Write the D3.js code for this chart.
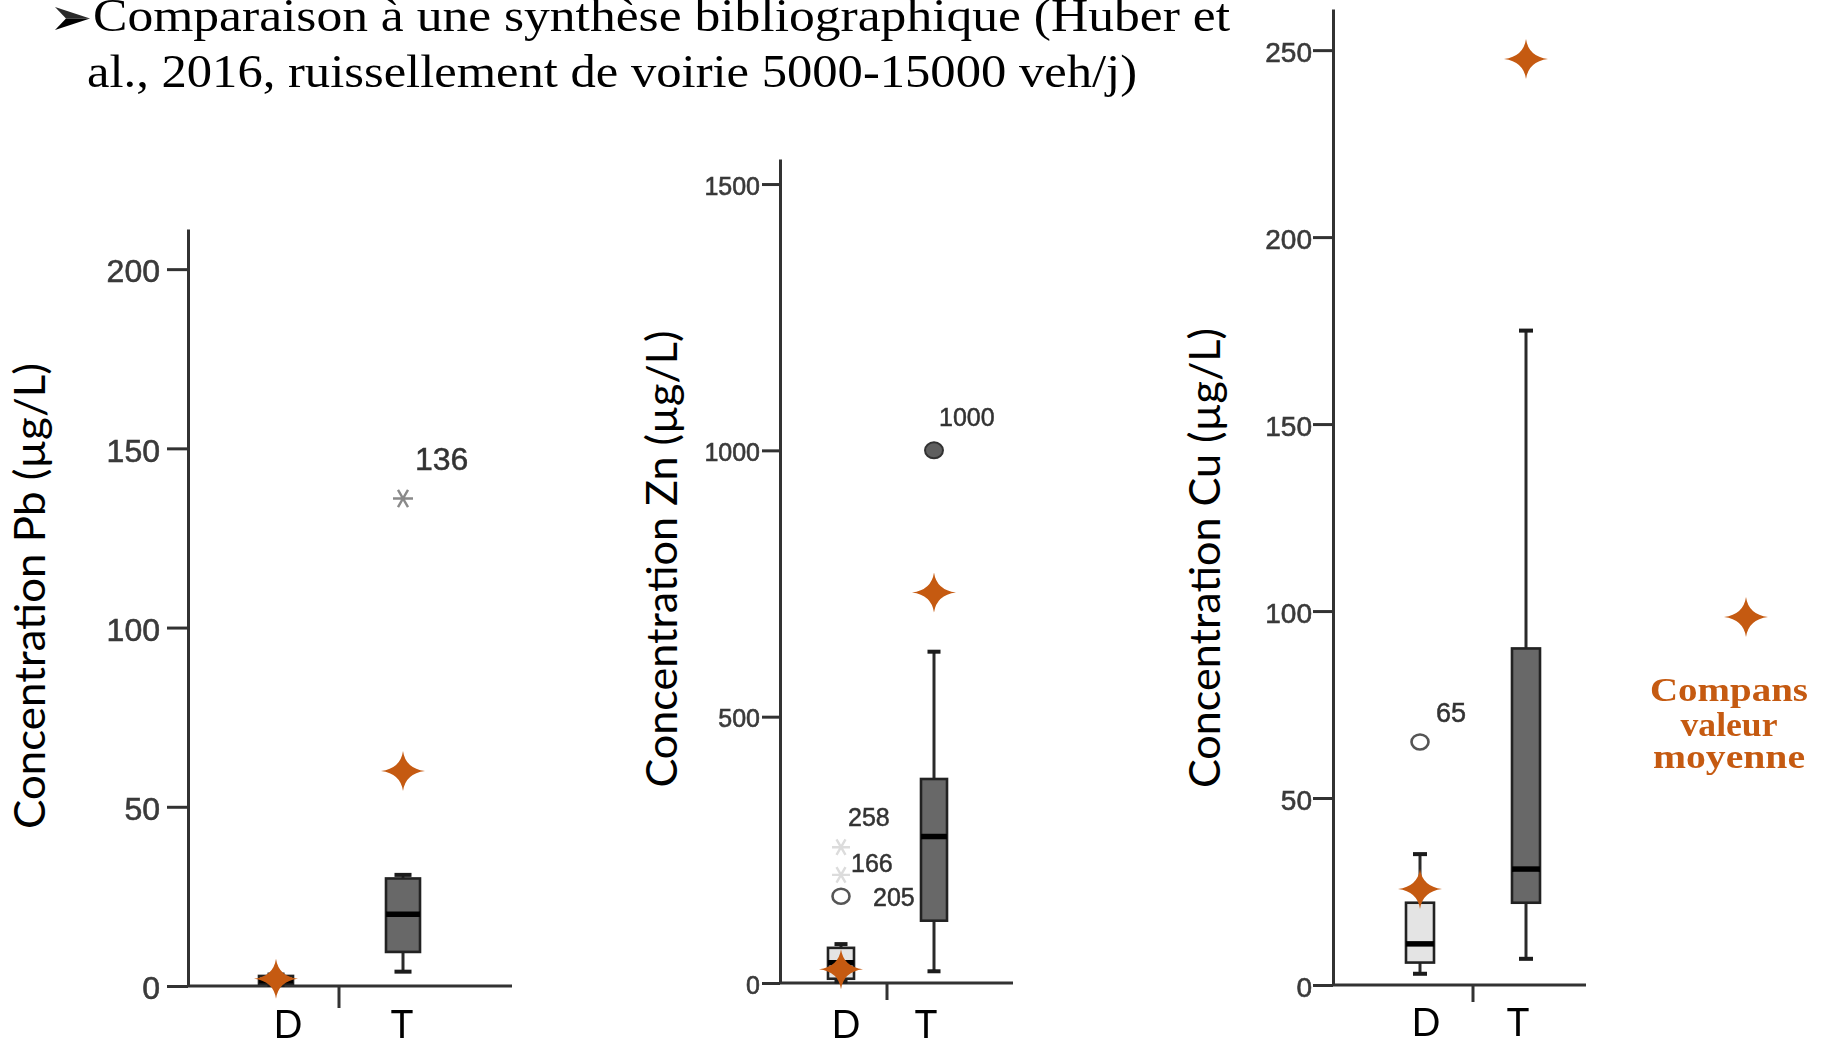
<!DOCTYPE html>
<html>
<head>
<meta charset="utf-8">
<script src="https://cdn.jsdelivr.net/npm/d3@7"></script>
<style>
  body { margin: 0; background: #fff; }
  svg { display: block; }
</style>
</head>
<body>
<svg id="chart" width="1822" height="1047"></svg>
<script>
// ---- data -------------------------------------------------------------
const groups = ["D", "T"];

const pbTicks = [0, 50, 100, 150, 200];
const znTicks = [0, 500, 1000, 1500];
const cuTicks = [0, 50, 100, 150, 200, 250];

// box statistics: [lower whisker, Q1, median, Q3, upper whisker]
const pbBoxD = [0.3, 0.6, 1.5, 2.8, 3.2];
const pbBoxT = [4, 9.5, 20, 30, 31];
const znBoxD = [3, 8, 38, 66, 73];
const znBoxT = [22, 117, 275, 383, 622];
const cuBoxD = [3, 6, 11, 22, 35];
const cuBoxT = [7, 22, 31, 90, 175];

// outliers: group, value, marker type, case number
const pbOutliers = [
  { group: "T", value: 136, marker: "extreme", label: "136" }
];
const znOutliers = [
  { group: "D", value: 255, marker: "faint", label: "258" },
  { group: "D", value: 203, marker: "faint", label: "166" },
  { group: "D", value: 163, marker: "circle", label: "205" },
  { group: "T", value: 1000, marker: "filled", label: "1000" }
];
const cuOutliers = [
  { group: "D", value: 65, marker: "circle", label: "65" }
];

// Compans mean values (D, T)
const pbMeans = [2, 60];
const znMeans = [26, 733];
const cuMeans = [25.7, 247.6];

const yTitles = ["Concentration Pb (µg/L)", "Concentration Zn (µg/L)", "Concentration Cu (µg/L)"];
const titleLines = [
  "Comparaison à une synthèse bibliographique (Huber et",
  "al., 2016, ruissellement de voirie 5000-15000 veh/j)"
];
const legendLines = ["Compans", "valeur", "moyenne"];

// ---- drawing ----------------------------------------------------------
const ORANGE = "#C55A11";
const svg = d3.select("#chart");
svg.append("rect").attr("width", 1822).attr("height", 1047).attr("fill", "#fff");

const defs = svg.append("defs");
defs.append("filter").attr("id", "soft")
  .attr("x", "-5%").attr("y", "-5%").attr("width", "110%").attr("height", "110%")
  .append("feGaussianBlur").attr("stdDeviation", 0.75);

// four-pointed star used for the mean values
function starPath(cx, cy, w, h, k) {
  const p = d3.path();
  p.moveTo(cx - w, cy);
  p.quadraticCurveTo(cx - k, cy - k, cx, cy - h);
  p.quadraticCurveTo(cx + k, cy - k, cx + w, cy);
  p.quadraticCurveTo(cx + k, cy + k, cx, cy + h);
  p.quadraticCurveTo(cx - k, cy + k, cx - w, cy);
  p.closePath();
  return p.toString();
}

// six-armed asterisk used for extreme values
function asteriskPath(cx, cy, r) {
  const p = d3.path();
  [0, 60, 120].forEach(a => {
    const t = a * Math.PI / 180;
    p.moveTo(cx - r * Math.cos(t), cy - r * Math.sin(t));
    p.lineTo(cx + r * Math.cos(t), cy + r * Math.sin(t));
  });
  return p.toString();
}

// heading with its bullet arrow
const bullet = d3.path();
bullet.moveTo(55, 7); bullet.lineTo(90, 18.5); bullet.lineTo(66, 18.5); bullet.closePath();
svg.append("path").attr("d", bullet.toString()).attr("fill", "#2a2a2a");
const bullet2 = d3.path();
bullet2.moveTo(66, 18.5); bullet2.lineTo(90, 18.5); bullet2.lineTo(55, 30); bullet2.closePath();
svg.append("path").attr("d", bullet2.toString()).attr("fill", "#000");

svg.append("text").attr("x", 93).attr("y", 31)
  .attr("font-family", "Liberation Serif").attr("font-size", 46)
  .attr("textLength", 1137).attr("lengthAdjust", "spacingAndGlyphs")
  .text(titleLines[0]);
svg.append("text").attr("x", 87).attr("y", 87)
  .attr("font-family", "Liberation Serif").attr("font-size", 46)
  .attr("textLength", 1050).attr("lengthAdjust", "spacingAndGlyphs")
  .text(titleLines[1]);

// panel layouts
const panels = [
  { ticks: pbTicks, boxes: [pbBoxD, pbBoxT], outliers: pbOutliers, means: pbMeans, title: yTitles[0],
    axisX: 188, y0: 986, yTop: 229, top: 211.2, xEnd: 512, sepX: 339, sepDrop: 22,
    xD: 276, xT: 403, boxW: 34, tickLen: 21, pad: 7, tickFont: 32, labelFont: 32,
    lblD: 288, lblT: 402, lblY: 1038, titleX: 45, titleY: 596, titleLen: 466,
    offsets: { "136": [12, -40] } },
  { ticks: znTicks, boxes: [znBoxD, znBoxT], outliers: znOutliers, means: znMeans, title: yTitles[1],
    axisX: 780, y0: 983, yTop: 159, top: 1547, xEnd: 1013, sepX: 887, sepDrop: 17,
    xD: 841, xT: 934, boxW: 26, tickLen: 18, pad: 2, tickFont: 25, labelFont: 25,
    lblD: 846, lblT: 926, lblY: 1038, titleX: 677, titleY: 559, titleLen: 457,
    offsets: { "258": [7, -30], "166": [10, -12], "205": [32, 1], "1000": [5, -33] } },
  { ticks: cuTicks, boxes: [cuBoxD, cuBoxT], outliers: cuOutliers, means: cuMeans, title: yTitles[2],
    axisX: 1333, y0: 985, yTop: 9, top: 261, xEnd: 1586, sepX: 1473, sepDrop: 17,
    xD: 1420, xT: 1526, boxW: 28, tickLen: 20, pad: 1, tickFont: 28, labelFont: 27,
    lblD: 1426, lblT: 1518, lblY: 1036, titleX: 1220, titleY: 558, titleLen: 460,
    offsets: { "65": [16, -30] } }
];

panels.forEach(p => {
  const y = d3.scaleLinear().domain([0, p.top]).range([p.y0, p.yTop]);
  const x = d3.scalePoint().domain(groups).range([p.xD, p.xT]);

  const g = svg.append("g").attr("filter", "url(#soft)");

  // y axis
  const axis = d3.axisLeft(y).tickValues(p.ticks).tickSize(p.tickLen)
    .tickSizeOuter(0).tickPadding(p.pad).tickFormat(d3.format("d"));
  const ag = g.append("g").attr("transform", `translate(${p.axisX},0)`).call(axis);
  ag.select(".domain").attr("stroke", "#333").attr("stroke-width", 3);
  ag.selectAll(".tick line").attr("stroke", "#333").attr("stroke-width", 3);
  ag.selectAll(".tick text")
    .attr("font-family", "Liberation Sans").attr("font-size", p.tickFont)
    .attr("fill", "#3a3a3a").attr("stroke", "#3a3a3a").attr("stroke-width", 0.6)
    .attr("dy", "0.4em");

  // x axis with category separator
  g.append("line").attr("x1", p.axisX).attr("x2", p.xEnd)
    .attr("y1", y(0)).attr("y2", y(0)).attr("stroke", "#333").attr("stroke-width", 3);
  g.append("line").attr("x1", p.sepX).attr("x2", p.sepX)
    .attr("y1", y(0)).attr("y2", y(0) + p.sepDrop).attr("stroke", "#333").attr("stroke-width", 3);

  // box plots
  groups.forEach((grp, i) => {
    const [lo, q1, med, q3, hi] = p.boxes[i];
    const cx = x(grp), w = p.boxW, cap = w * 0.5;
    const fill = grp === "D" ? "#e4e4e4" : "#686868";
    g.append("line").attr("x1", cx).attr("x2", cx).attr("y1", y(hi)).attr("y2", y(q3))
      .attr("stroke", "#2a2a2a").attr("stroke-width", 3);
    g.append("line").attr("x1", cx).attr("x2", cx).attr("y1", y(q1)).attr("y2", y(lo))
      .attr("stroke", "#2a2a2a").attr("stroke-width", 3);
    [lo, hi].forEach(v => {
      g.append("line").attr("x1", cx - cap / 2).attr("x2", cx + cap / 2)
        .attr("y1", y(v)).attr("y2", y(v)).attr("stroke", "#1a1a1a").attr("stroke-width", 4);
    });
    g.append("rect").attr("x", cx - w / 2).attr("y", y(q3))
      .attr("width", w).attr("height", Math.max(1, y(q1) - y(q3)))
      .attr("fill", fill).attr("stroke", "#222").attr("stroke-width", 2.6);
    g.append("line").attr("x1", cx - w / 2).attr("x2", cx + w / 2)
      .attr("y1", y(med)).attr("y2", y(med)).attr("stroke", "#000").attr("stroke-width", 5.5);
  });

  // outliers and their case numbers
  p.outliers.forEach(o => {
    const cx = x(o.group), cy = y(o.value);
    if (o.marker === "circle") {
      g.append("ellipse").attr("cx", cx).attr("cy", cy).attr("rx", 8.5).attr("ry", 7.5)
        .attr("fill", "none").attr("stroke", "#555").attr("stroke-width", 2.6);
    } else if (o.marker === "filled") {
      g.append("ellipse").attr("cx", cx).attr("cy", cy).attr("rx", 9).attr("ry", 8)
        .attr("fill", "#5e5e5e").attr("stroke", "#333").attr("stroke-width", 2);
    } else {
      g.append("path").attr("d", asteriskPath(cx, cy, o.marker === "faint" ? 9 : 10))
        .attr("stroke", o.marker === "faint" ? "#dcdcdc" : "#8a8a8a")
        .attr("stroke-width", 2.4).attr("fill", "none");
    }
    const off = p.offsets[o.label] || [10, -20];
    g.append("text").attr("x", cx + off[0]).attr("y", cy + off[1]).attr("dy", "0.36em")
      .attr("font-family", "Liberation Sans").attr("font-size", p.labelFont)
      .attr("fill", "#333").attr("stroke", "#333").attr("stroke-width", 0.5)
      .text(o.label);
  });

  // category labels
  [[groups[0], p.lblD], [groups[1], p.lblT]].forEach(([t, lx]) => {
    svg.append("text").attr("x", lx).attr("y", p.lblY).attr("text-anchor", "middle")
      .attr("font-family", "Lato").attr("font-size", 38).attr("fill", "#000").text(t);
  });

  // y axis title
  svg.append("text")
    .attr("transform", `translate(${p.titleX},${p.titleY}) rotate(-90)`)
    .attr("text-anchor", "middle")
    .attr("font-family", "Lato").attr("font-size", 42)
    .attr("textLength", p.titleLen).attr("lengthAdjust", "spacingAndGlyphs")
    .attr("fill", "#000").text(p.title);

  // Compans mean values
  svg.selectAll(null).data(groups).enter().append("path")
    .attr("d", (d, i) => starPath(x(d), y(p.means[i]), 22, 20, 2.5))
    .attr("fill", ORANGE);
});

// legend
svg.append("path").attr("d", starPath(1746, 617, 22, 20, 2.5)).attr("fill", ORANGE);
const legendLens = [158, 97, 152];
const legendBase = [701, 736, 768];
legendLines.forEach((t, i) => {
  svg.append("text").attr("x", 1729).attr("y", legendBase[i]).attr("text-anchor", "middle")
    .attr("font-family", "Liberation Serif").attr("font-weight", "bold").attr("font-size", 34)
    .attr("textLength", legendLens[i]).attr("lengthAdjust", "spacingAndGlyphs")
    .attr("fill", ORANGE).text(t);
});
</script>
</body>
</html>
